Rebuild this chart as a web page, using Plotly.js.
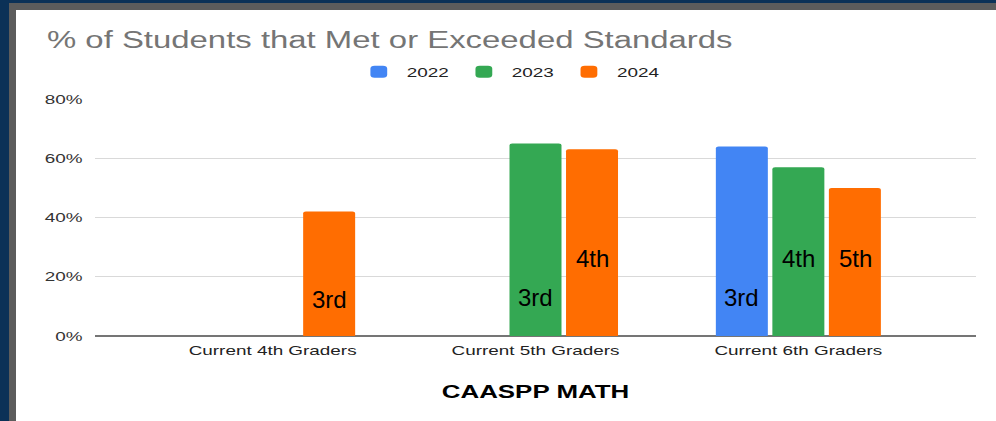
<!DOCTYPE html>
<html>
<head>
<meta charset="utf-8">
<script src="https://cdn.plot.ly/plotly-3.0.1.min.js"></script>
<style>
  html, body { margin: 0; padding: 0; width: 996px; height: 421px; overflow: hidden; background: #0b3157; }
  #frame { position: absolute; left: 9px; top: 3px; right: 0; bottom: 0; background: #5c5c5c; }
  #sheet { position: absolute; left: 16px; top: 10px; right: 0; bottom: 0; background: #ffffff; }
  #chart { position: absolute; left: 0; top: 0; transform-origin: 0 0; }
  #labels { position: absolute; left: 0; top: 0; pointer-events: none; }
</style>
</head>
<body>
<div id="frame"></div>
<div id="sheet"></div>
<div id="chart"></div>
<div id="labels"></div>
<script>
// ---- data ----
const categories = ["Current 4th Graders", "Current 5th Graders", "Current 6th Graders"];
const seriesNames = ["2022", "2023", "2024"];
const values2022 = [null, null, 64];
const values2023 = [null, 65, 57];
const values2024 = [42, 63, 50];
const yTickVals = [0, 20, 40, 60, 80];
const yTickText = ["0%", "20%", "40%", "60%", "80%"];
// grade labels written inside the bars: [categoryIndex, seriesIndex, text, height (%)]
const gradeLabelCats = [0, 1, 1, 2, 2, 2];
const gradeLabelSeries = [2, 1, 2, 0, 1, 2];
const gradeLabelText = ["3rd", "3rd", "4th", "3rd", "4th", "5th"];
const gradeLabelLevel = [12.3, 13.0, 26.3, 13.0, 26.3, 26.3];

// ---- styling ----
const colors = ["#4285f4", "#34a853", "#ff6d01"];
const W = 996, H = 421;
const S = 1.4; // horizontal stretch of the chart image
const M = { l: 95, r: 20, t: 99, b: 85 };
const xRange = [-0.675, 2.675];
const yRange = [0, 80];
const bargap = 0.355, bargroupgap = 0.08;
const font = "Liberation Sans, Arial, sans-serif";

const allValues = [values2022, values2023, values2024];
const traces = allValues.map((vals, i) => ({
  type: "bar",
  name: seriesNames[i],
  x: categories,
  y: vals,
  marker: { color: colors[i], line: { width: 0 } },
  hoverinfo: "skip"
}));

const chartDiv = document.getElementById("chart");
chartDiv.style.transform = "scaleX(" + S + ")";

const layout = {
  width: W / S,
  height: H,
  margin: { l: M.l / S, r: M.r / S, t: M.t, b: M.b, pad: 0 },
  paper_bgcolor: "rgba(0,0,0,0)",
  plot_bgcolor: "rgba(0,0,0,0)",
  barmode: "group",
  bargap: bargap,
  bargroupgap: bargroupgap,
  barcornerradius: 2,
  font: { family: font, color: "#222222", size: 13.5 },
  title: {
    text: "% of Students that Met or Exceeded Standards",
    font: { family: font, size: 23.5, color: "#757575" },
    xref: "container", x: 47 / W, xanchor: "left",
    yref: "container", y: 1 - 40 / H, yanchor: "middle"
  },
  showlegend: true,
  legend: {
    orientation: "h",
    xref: "container", x: 509 / W, xanchor: "center",
    yref: "container", y: 1 - 72 / H, yanchor: "middle",
    font: { family: font, size: 13.5, color: "#222222" },
    bgcolor: "rgba(0,0,0,0)",
    traceorder: "normal"
  },
  xaxis: {
    type: "category",
    range: xRange,
    showgrid: false,
    zeroline: false,
    showline: false,
    ticks: "",
    ticklabelstandoff: 5,
    tickfont: { family: font, size: 13.5, color: "#222222" },
    title: {
      text: "CAASPP MATH",
      font: { family: font, size: 18.5, color: "#000000", weight: "bold" },
      standoff: 27
    },
    fixedrange: true
  },
  yaxis: {
    range: yRange,
    tickvals: yTickVals,
    ticktext: yTickText,
    showgrid: true,
    gridcolor: "#d9d9d9",
    gridwidth: 1,
    zeroline: true,
    zerolinecolor: "#757575",
    zerolinewidth: 1.3,
    showline: false,
    ticks: "",
    ticklabelstandoff: 8,
    tickfont: { family: font, size: 13.5, color: "#333333" },
    fixedrange: true
  }
};

Plotly.newPlot(chartDiv, traces, layout, { staticPlot: true, displayModeBar: false });

// ---- grade labels (unstretched text), same axis geometry ----
const slot = (1 - bargap) / seriesNames.length;
const annotations = gradeLabelText.map((t, i) => ({
  xref: "x", yref: "y",
  x: gradeLabelCats[i] + (gradeLabelSeries[i] - (seriesNames.length - 1) / 2) * slot,
  y: gradeLabelLevel[i],
  text: t,
  showarrow: false,
  xanchor: "center", yanchor: "middle",
  font: { family: font, size: 24, color: "#000000" }
}));

Plotly.newPlot("labels", [], {
  width: W, height: H,
  margin: { l: M.l, r: M.r, t: M.t, b: M.b, pad: 0 },
  paper_bgcolor: "rgba(0,0,0,0)",
  plot_bgcolor: "rgba(0,0,0,0)",
  showlegend: false,
  xaxis: { range: xRange, visible: false, fixedrange: true },
  yaxis: { range: yRange, visible: false, fixedrange: true },
  annotations: annotations
}, { staticPlot: true, displayModeBar: false });
</script>
</body>
</html>
